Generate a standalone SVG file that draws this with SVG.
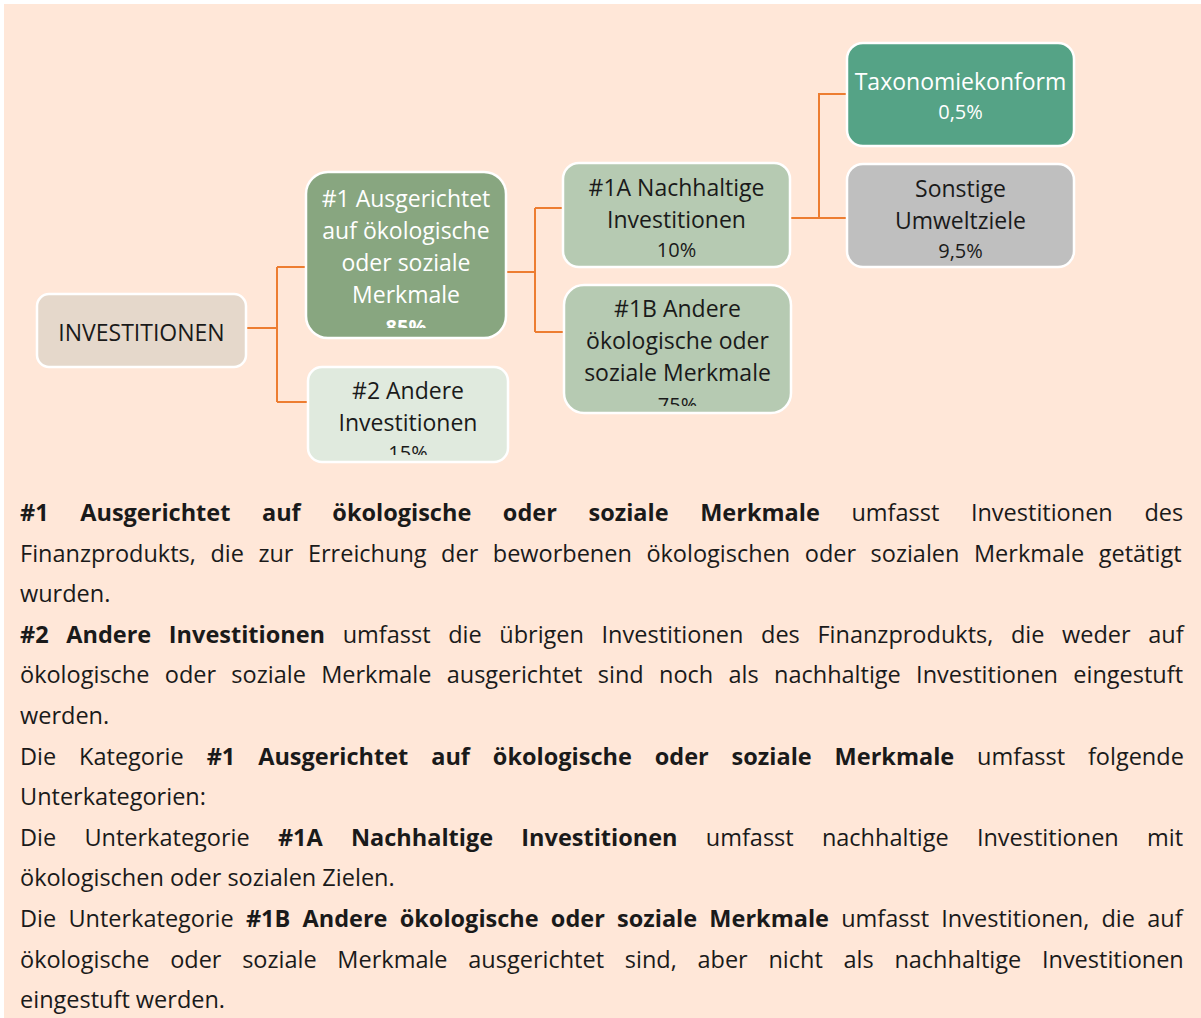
<svg xmlns="http://www.w3.org/2000/svg" width="1201" height="1018" viewBox="0 0 1201 1018">
<style>
.bg{fill:#FFE7D8}
.node{stroke:#FFFFFF;stroke-width:2.5}
.t{font-family:"Open Sans","Noto Sans",sans-serif;font-size:23px;text-anchor:middle;fill:#1A1A1A}
.w{fill:#FFFFFF}
.p{font-size:20px}
.conn{fill:none;stroke:#ED7D31;stroke-width:2}
.body{font-family:"Open Sans","Noto Sans",sans-serif;font-size:23.5px;fill:#1A1A1A}
.b{font-weight:bold}
</style>
<defs>
<clipPath id="c1"><rect x="306" y="172" width="200" height="156"/></clipPath>
<clipPath id="c2"><rect x="308" y="367" width="200" height="88"/></clipPath>
<clipPath id="c1b"><rect x="564" y="285" width="227" height="121"/></clipPath>
</defs>
<rect x="0" y="0" width="1201" height="1018" fill="#FFFFFF"/>
<rect class="bg" x="4" y="4" width="1197" height="1014"/>
<g id="connectors">
<path class="conn" d="M246,328 H277 M277,267 V402 M277,267 H308 M277,402 H308"/>
<path class="conn" d="M506,272 H535 M535,208 V332 M535,208 H563 M535,332 H564"/>
<path class="conn" d="M790,218 H819 V94 H847 M819,218 H847"/>
</g>
<g id="node-investitionen">
<rect class="node" x="37" y="294" width="209" height="73" rx="12" fill="#E5D8CB"/>
<text class="t" x="141.5" y="341">INVESTITIONEN</text>
</g>
<g id="node-1">
<rect class="node" x="306" y="172" width="200" height="166" rx="22" fill="#88A680"/>
<g clip-path="url(#c1)">
<text class="t w" x="406" y="207">#1 Ausgerichtet</text>
<text class="t w" x="406" y="239">auf ökologische</text>
<text class="t w" x="406" y="271">oder soziale</text>
<text class="t w" x="406" y="303">Merkmale</text>
<text class="t w p" x="406" y="334" font-weight="bold">85%</text>
</g>
</g>
<g id="node-2">
<rect class="node" x="308" y="367" width="200" height="95" rx="14" fill="#E0EADE"/>
<g clip-path="url(#c2)">
<text class="t" x="408" y="399">#2 Andere</text>
<text class="t" x="408" y="431">Investitionen</text>
<text class="t p" x="408" y="460">15%</text>
</g>
</g>
<g id="node-1a">
<rect class="node" x="563" y="163" width="227" height="104" rx="16" fill="#B6CAB2"/>
<text class="t" x="676.5" y="196">#1A Nachhaltige</text>
<text class="t" x="676.5" y="228">Investitionen</text>
<text class="t p" x="676.5" y="257">10%</text>
</g>
<g id="node-1b">
<rect class="node" x="564" y="285" width="227" height="128" rx="20" fill="#B6CAB2"/>
<g clip-path="url(#c1b)">
<text class="t" x="677.5" y="317">#1B Andere</text>
<text class="t" x="677.5" y="349">ökologische oder</text>
<text class="t" x="677.5" y="381">soziale Merkmale</text>
<text class="t p" x="677.5" y="412">75%</text>
</g>
</g>
<g id="node-taxonomie">
<rect class="node" x="847" y="43" width="227" height="103" rx="16" fill="#55A386"/>
<text class="t w" x="960.5" y="90">Taxonomiekonform</text>
<text class="t w p" x="960.5" y="119">0,5%</text>
</g>
<g id="node-sonstige">
<rect class="node" x="847" y="164" width="227" height="103" rx="16" fill="#BFBFBF"/>
<text class="t" x="960.5" y="197">Sonstige</text>
<text class="t" x="960.5" y="229">Umweltziele</text>
<text class="t p" x="960.5" y="258">9,5%</text>
</g>
<g id="text-block">
<text class="body" x="20" y="521" word-spacing="25.5"><tspan class="b">#1 Ausgerichtet auf ökologische oder soziale Merkmale</tspan> umfasst Investitionen des</text>
<text class="body" x="20" y="561.6" word-spacing="8.4">Finanzprodukts, die zur Erreichung der beworbenen ökologischen oder sozialen Merkmale getätigt</text>
<text class="body" x="20" y="602.2">wurden.</text>
<text class="body" x="20" y="642.8" word-spacing="11.5"><tspan class="b">#2 Andere Investitionen</tspan> umfasst die übrigen Investitionen des Finanzprodukts, die weder auf</text>
<text class="body" x="20" y="683.4" word-spacing="9.2">ökologische oder soziale Merkmale ausgerichtet sind noch als nachhaltige Investitionen eingestuft</text>
<text class="body" x="20" y="724">werden.</text>
<text class="body" x="20" y="764.6" word-spacing="16.8">Die Kategorie <tspan class="b">#1 Ausgerichtet auf ökologische oder soziale Merkmale</tspan> umfasst folgende</text>
<text class="body" x="20" y="805.2">Unterkategorien:</text>
<text class="body" x="20" y="845.8" word-spacing="22.1">Die Unterkategorie <tspan class="b">#1A Nachhaltige Investitionen</tspan> umfasst nachhaltige Investitionen mit</text>
<text class="body" x="20" y="886.4">ökologischen oder sozialen Zielen.</text>
<text class="body" x="20" y="927" word-spacing="6.1">Die Unterkategorie <tspan class="b">#1B Andere ökologische oder soziale Merkmale</tspan> umfasst Investitionen, die auf</text>
<text class="body" x="20" y="967.6" word-spacing="14.6">ökologische oder soziale Merkmale ausgerichtet sind, aber nicht als nachhaltige Investitionen</text>
<text class="body" x="20" y="1008.2">eingestuft werden.</text>
</g>
</svg>
